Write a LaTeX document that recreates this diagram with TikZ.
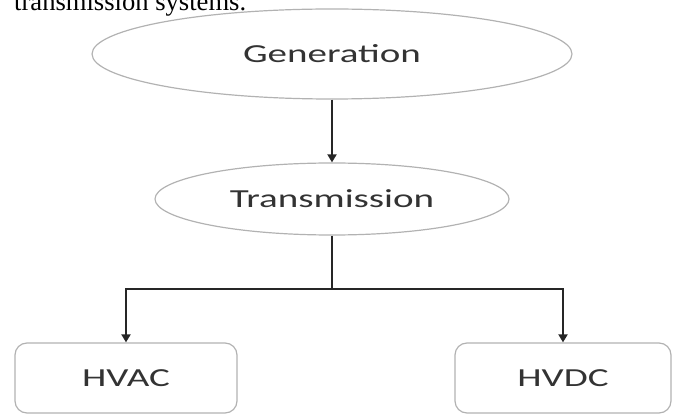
\documentclass[tikz,border=0pt]{standalone}
\usepackage{fontspec}
\setmainfont{Liberation Serif}
\newfontfamily\diagfont{Carlito}[FakeStretch=1.5]
\usetikzlibrary{arrows.meta,positioning,shapes.geometric}

\begin{document}
\begin{tikzpicture}[x=1pt, y=-1pt, font=\diagfont\fontsize{26}{30}\selectfont,
  oval/.style={ellipse, draw=gray!60, line width=1.2pt, inner sep=0pt, text=black!80},
  sysbox/.style={draw=gray!60, line width=1.2pt, rounded corners=12pt, minimum height=70pt, text=black!80},
  link/.style={line width=1.8pt, black!85, -{Triangle[length=8pt,width=9pt]}}]
\useasboundingbox (0,0) rectangle (680,414);
\node[anchor=base west, inner sep=0pt, font=\rmfamily\fontsize{26.6}{30}\selectfont] (cap) at (14,11) {transmission systems.};
\node[oval, minimum width=480pt, minimum height=90pt] (gen) at (332,54) {\raisebox{-4pt}{Generation}};
\node[oval, minimum width=354pt, minimum height=72pt] (trans) at (332,199) {Transmission};
\node[sysbox, minimum width=222pt] (hvac) at (126,378) {HVAC};
\node[sysbox, minimum width=216pt] (hvdc) at (563,378) {HVDC};
\coordinate (split) at (332,289);
\draw[link] (gen) -- (trans);
\draw[line width=1.8pt, black!85] (trans) -- (split);
\draw[link] (split) -| (hvac);
\draw[link] (split) -| (hvdc);
\end{tikzpicture}
\end{document}
